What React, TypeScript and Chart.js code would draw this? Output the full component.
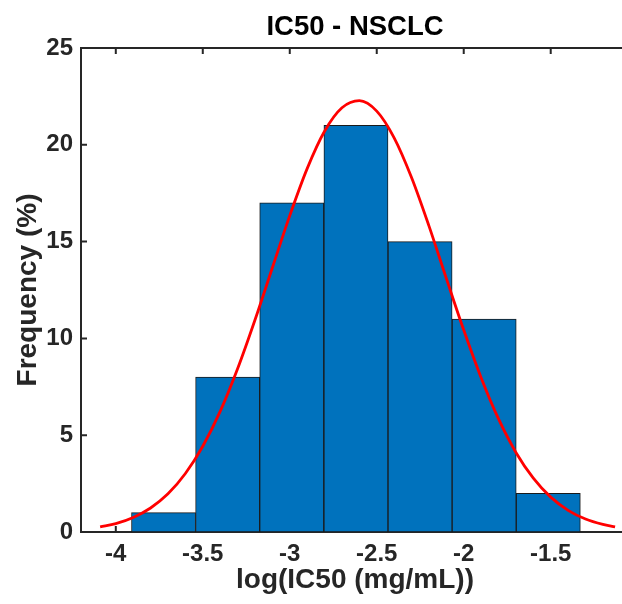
import React, { useEffect, useRef } from "react";
import { Chart, registerables } from "chart.js";

Chart.register(...registerables);

const titleText = "IC50 - NSCLC";
const xAxisTitle = "log(IC50 (mg/mL))";
const yAxisTitle = "Frequency (%)";

const binEdges = [-3.91, -3.541, -3.173, -2.804, -2.435, -2.067, -1.698, -1.33];
const binCounts = [1, 8, 17, 21, 15, 11, 2];

const curveX = [
  -4.09, -4.0, -3.9, -3.8, -3.7, -3.6, -3.5, -3.4, -3.3, -3.2, -3.1, -3.0, -2.9, -2.8, -2.7, -2.6,
  -2.5, -2.4, -2.3, -2.2, -2.1, -2.0, -1.9, -1.8, -1.7, -1.6, -1.5, -1.4, -1.3, -1.2, -1.13,
];
const curveY = [
  0.26, 0.43, 0.75, 1.24, 1.97, 3.02, 4.43, 6.23, 8.43, 10.95, 13.65, 16.34, 18.77, 20.7, 21.91, 22.28,
  21.74, 20.36, 18.31, 15.81, 13.1, 10.43, 7.97, 5.84, 4.11, 2.78, 1.8, 1.12, 0.67, 0.39, 0.26,
];

const xTicks = [-4, -3.5, -3, -2.5, -2, -1.5];
const yTicks = [0, 5, 10, 15, 20, 25];
const xRange = [-4.2, -1.05];
const yRange = [0, 25];

const FONT = '"Liberation Sans", Arial, Helvetica, sans-serif';
const AXIS_COLOR = "#262626";
const TICK_LEN = 6;

const inwardTicks = {
  id: "inwardTicks",
  beforeDatasetsDraw(chart: any) {
    const { ctx, chartArea, scales } = chart;
    const x = scales.x;
    const y = scales.y;
    ctx.save();
    ctx.strokeStyle = AXIS_COLOR;
    ctx.lineWidth = 2;
    ctx.beginPath();
    x.ticks.forEach((t: any) => {
      const px = x.getPixelForValue(t.value);
      ctx.moveTo(px, chartArea.bottom);
      ctx.lineTo(px, chartArea.bottom - TICK_LEN);
      ctx.moveTo(px, chartArea.top);
      ctx.lineTo(px, chartArea.top + TICK_LEN);
    });
    y.ticks.forEach((t: any) => {
      const py = y.getPixelForValue(t.value);
      ctx.moveTo(chartArea.left, py);
      ctx.lineTo(chartArea.left + TICK_LEN, py);
    });
    ctx.stroke();
    ctx.restore();
  },
};

export default function App() {
  const ref = useRef<HTMLCanvasElement | null>(null);

  useEffect(() => {
    if (!ref.current) return;
    const centers = binCounts.map((_, i) => (binEdges[i] + binEdges[i + 1]) / 2);
    const barData = binCounts.map((c, i) => ({ x: centers[i], y: c }));
    const lineData = curveX.map((x, i) => ({ x, y: curveY[i] }));

    const chart = new Chart(ref.current, {
      type: "bar",
      data: {
        datasets: [
          {
            type: "line",
            data: lineData,
            borderColor: "#FF0000",
            borderWidth: 2.8,
            pointRadius: 0,
            fill: false,
            cubicInterpolationMode: "monotone",
            order: 0,
            xAxisID: "x",
            yAxisID: "y",
          } as any,
          {
            type: "bar",
            data: barData,
            backgroundColor: "#0072BD",
            borderColor: "#1a1a1a",
            borderWidth: 1,
            borderSkipped: false,
            barPercentage: 1,
            categoryPercentage: 1,
            order: 1,
            xAxisID: "x",
            yAxisID: "y",
          } as any,
        ],
      },
      options: {
        animation: false,
        responsive: false,
        devicePixelRatio: 1,
        layout: { padding: { left: 0, right: 1, top: 0, bottom: 0 } },
        plugins: {
          legend: { display: false },
          tooltip: { enabled: false },
          title: {
            display: true,
            text: titleText,
            fullSize: false,
            color: "#000000",
            font: { family: FONT, size: 27.5, weight: "bold", lineHeight: 1.2 },
            padding: { top: 11, bottom: 4 },
          },
        },
        scales: {
          x: {
            type: "linear",
            position: "bottom",
            offset: false,
            min: xRange[0],
            max: xRange[1],
            afterBuildTicks: (scale: any) => {
              scale.ticks = xTicks.map((v) => ({ value: v }));
            },
            afterFit: (scale: any) => {
              scale.height = 72;
            },
            grid: { display: false, drawTicks: false, offset: false },
            border: { display: true, color: AXIS_COLOR, width: 2 },
            ticks: {
              color: AXIS_COLOR,
              padding: 8,
              maxRotation: 0,
              autoSkip: false,
              callback: (v: any) => String(v),
              font: { family: FONT, size: 24, weight: "bold" },
            },
            title: {
              display: true,
              text: xAxisTitle,
              color: AXIS_COLOR,
              font: { family: FONT, size: 28, weight: "bold", lineHeight: 1.2 },
              padding: { top: 0, bottom: 7 },
            },
          },
          x2: {
            type: "linear",
            position: "top",
            offset: false,
            min: xRange[0],
            max: xRange[1],
            afterFit: (scale: any) => {
              scale.height = 0;
            },
            grid: { display: false, drawTicks: false, offset: false },
            border: { display: true, color: AXIS_COLOR, width: 2 },
            ticks: { display: false },
          },
          y: {
            type: "linear",
            position: "left",
            min: yRange[0],
            max: yRange[1],
            afterBuildTicks: (scale: any) => {
              scale.ticks = yTicks.map((v) => ({ value: v }));
            },
            afterFit: (scale: any) => {
              scale.width = 81;
            },
            grid: { display: false, drawTicks: false },
            border: { display: true, color: AXIS_COLOR, width: 2 },
            ticks: {
              color: AXIS_COLOR,
              padding: 8,
              callback: (v: any) => String(v),
              font: { family: FONT, size: 24, weight: "bold" },
            },
            title: {
              display: true,
              text: yAxisTitle,
              color: AXIS_COLOR,
              font: { family: FONT, size: 28, weight: "bold", lineHeight: 1.2 },
              padding: { top: 11, bottom: 0 },
            },
          },
        },
      },
      plugins: [inwardTicks],
    });

    return () => chart.destroy();
  }, []);

  return (
    <div
      style={{
        position: "fixed",
        left: 0,
        top: 0,
        width: 622,
        height: 604,
        overflow: "hidden",
        background: "#ffffff",
      }}
    >
      <canvas ref={ref} width={630} height={604} style={{ display: "block" }} />
    </div>
  );
}
